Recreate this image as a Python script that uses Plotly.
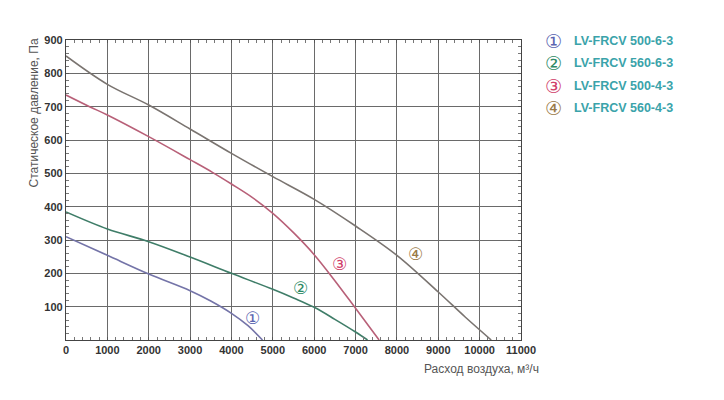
import plotly.graph_objects as go

# ---- data ----
names = ["LV-FRCV 500-6-3", "LV-FRCV 560-6-3", "LV-FRCV 500-4-3", "LV-FRCV 560-4-3"]
marks = ["①", "②", "③", "④"]

x1 = [0, 1000, 2000, 3000, 3500, 4000, 4400, 4750]
y1 = [310, 254, 198, 148, 117, 80, 43, 0]

x2 = [0, 1000, 2000, 3000, 4000, 5000, 5500, 6000, 6500, 7000, 7290]
y2 = [384, 333, 295, 249, 200, 152, 126, 98, 62, 24, 0]

x3 = [0, 570, 1000, 2000, 3000, 3540, 4000, 4500, 5000, 5500, 6000, 6500, 7000, 7570]
y3 = [735, 700, 675, 610, 541, 503, 468, 428, 380, 322, 256, 178, 95, 0]

x4 = [0, 1000, 2000, 3000, 4000, 5000, 6000, 7000, 8000, 9000, 9650, 10280]
y4 = [852, 767, 705, 633, 560, 490, 422, 342, 254, 144, 69, 0]

label_x = [4500, 5660, 6600, 8460]
label_y = [65, 155, 227, 257]

x_ticks = list(range(0, 11001, 1000))
y_ticks = list(range(0, 901, 100))
y_hidden_label = "0"

line_colors = ["#7474a8", "#3f7d68", "#b86078", "#7a7470"]
mark_colors = ["#5a64b0", "#2e8a66", "#d0406a", "#9a7a48"]

fig = go.Figure()
for xs, ys, c in zip([x1, x2, x3, x4], [y1, y2, y3, y4], line_colors):
    fig.add_trace(go.Scatter(x=xs, y=ys, mode="lines",
                             line=dict(color=c, width=1.6, shape="spline", smoothing=1.0),
                             showlegend=False, hoverinfo="skip"))

for m, lx, ly, c in zip(marks, label_x, label_y, mark_colors):
    fig.add_annotation(x=lx, y=ly, xref="x", yref="y", text=m, showarrow=False,
                       font=dict(family="DejaVu Sans", size=17, color=c))

axis_common = dict(
    showline=True, linecolor="#444", linewidth=1.2, mirror="ticks",
    showgrid=True, gridcolor="#6a6a6a", gridwidth=1,
    zeroline=False, ticks="inside", ticklen=3, tickcolor="#555",
    fixedrange=True, automargin=False, tickmode="linear",
)

fig.update_xaxes(range=[x_ticks[0], x_ticks[-1]], tick0=x_ticks[0], dtick=x_ticks[1] - x_ticks[0],
                 tickformat="d",
                 tickfont=dict(family="Liberation Sans", size=11, color="#333", weight="bold"),
                 minor=dict(dtick=200, ticks="inside", ticklen=3, tickcolor="#777", showgrid=False),
                 **axis_common)
fig.update_yaxes(range=[y_ticks[0], y_ticks[-1]], tick0=y_ticks[0], dtick=y_ticks[1] - y_ticks[0],
                 labelalias={y_hidden_label: " "},
                 tickfont=dict(family="Liberation Sans", size=11, color="#333", weight="bold"),
                 minor=dict(dtick=20, ticks="inside", ticklen=3, tickcolor="#777", showgrid=False),
                 **axis_common)

# page body has an 8px default margin: lay out in a 716x392 box
OFF = 8
W, H = 724 - OFF, 400 - OFF
L, R, T, B = 66 - OFF, 203, 40 - OFF, 60
pw, ph = W - L - R, H - T - B

def px_to_paper(px, py):
    px -= OFF
    py -= OFF
    return (px - L) / pw, (H - B - py) / ph

for i, (m, n, c) in enumerate(zip(marks, names, mark_colors)):
    py = 41 + 22.3 * i
    cx, cy = px_to_paper(553, py)
    tx, _ = px_to_paper(572, py)
    fig.add_annotation(x=cx, y=cy, xref="paper", yref="paper", text=m, showarrow=False,
                       xanchor="center", yanchor="middle",
                       font=dict(family="DejaVu Sans", size=19, color=c))
    fig.add_annotation(x=tx, y=cy, xref="paper", yref="paper", text=n, showarrow=False,
                       xanchor="left", yanchor="middle",
                       font=dict(family="Liberation Sans", size=12.5, color="#3aa3aa", weight="bold"))

ax, ay = px_to_paper(33, 37)
fig.add_annotation(x=ax, y=ay, xref="paper", yref="paper", text="Статическое давление, Па",
                   textangle=-90, showarrow=False, xanchor="center", yanchor="top",
                   font=dict(family="Liberation Sans", size=12, color="#555"))
bx, by = px_to_paper(541, 369)
fig.add_annotation(x=bx, y=by, xref="paper", yref="paper", text="Расход воздуха, м³/ч",
                   showarrow=False, xanchor="right", yanchor="middle",
                   font=dict(family="Liberation Sans", size=12, color="#555"))

fig.update_layout(width=W, height=H, margin=dict(l=L, r=R, t=T, b=B, autoexpand=False),
                  paper_bgcolor="white", plot_bgcolor="white", showlegend=False)

fig.write_html("out.html")
